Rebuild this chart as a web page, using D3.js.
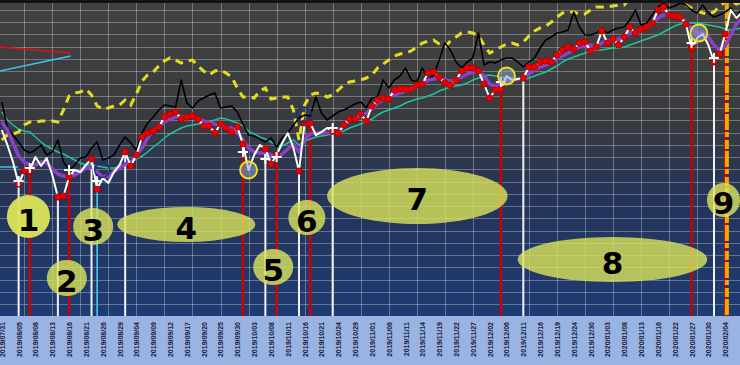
<!DOCTYPE html>
<html>
<head>
<meta charset="utf-8">
<script src="https://cdnjs.cloudflare.com/ajax/libs/d3/7.8.5/d3.min.js"></script>
<style>
body { margin: 0; background: #fff; }
svg { display: block; }
</style>
</head>
<body>
<div id="chart"></div>
<script>
// one label every 3 trading days, day 0 = 2019/07/31
var tickLabels = ['2019/07/31', '2019/08/05', '2019/08/08', '2019/08/13', '2019/08/16', '2019/08/21',
    '2019/08/26', '2019/08/29', '2019/09/04', '2019/09/09', '2019/09/12', '2019/09/17', '2019/09/20',
    '2019/09/25', '2019/09/30', '2019/10/03', '2019/10/08', '2019/10/11', '2019/10/16', '2019/10/21',
    '2019/10/24', '2019/10/29', '2019/11/01', '2019/11/06', '2019/11/11', '2019/11/14', '2019/11/19',
    '2019/11/22', '2019/11/27', '2019/12/02', '2019/12/06', '2019/12/11', '2019/12/16', '2019/12/19',
    '2019/12/24', '2019/12/30', '2020/01/03', '2020/01/08', '2020/01/13', '2020/01/16', '2020/01/22',
    '2020/01/27', '2020/01/30', '2020/02/04'];

// daily series, starting at day 0
var closeLine = [190, 175, 158, 136, 149, 150, 163, 154, 162, 145, 123, 124, 143, 150, 148, 155, 161, 131, 142, 137,
    148, 155, 168, 154, 165, 183, 187, 189, 193, 203, 206, 208, 201, 203, 204, 201, 194, 194, 187, 196,
    192, 188, 193, 176, 150, 165, 175, 171, 156, 165, 177, 187, 172, 149, 197, 197, 185, 188, 192, 189,
    187, 195, 201, 201, 206, 199, 214, 220, 222, 221, 230, 231, 231, 231, 235, 236, 247, 248, 243, 237,
    235, 240, 249, 252, 252, 249, 236, 222, 230, 231, 244, 240, 241, 242, 253, 253, 258, 259, 258, 265,
    270, 273, 271, 277, 278, 269, 273, 289, 277, 281, 275, 283, 293, 287, 291, 293, 297, 310, 313, 305,
    304, 303, 296, 272, 282, 286, 275, 258, 266, 286, 310, 302, 308];
var highLine = [218, 192, 185, 178, 170, 167, 170, 175, 165, 168, 180, 158, 150, 155, 162, 163, 172, 178, 160, 162,
    165, 175, 183, 177, 170, 187, 197, 203, 210, 215, 214, 213, 240, 217, 212, 219, 222, 225, 227, 212,
    213, 214, 208, 196, 185, 184, 181, 178, 182, 173, 182, 187, 195, 202, 205, 204, 223, 207, 200, 204,
    208, 210, 213, 216, 218, 212, 222, 223, 240, 232, 240, 244, 252, 240, 238, 252, 240, 245, 260, 277,
    270, 258, 252, 258, 262, 287, 255, 258, 257, 260, 262, 262, 258, 253, 258, 262, 272, 280, 283, 287,
    288, 290, 308, 293, 285, 285, 287, 290, 287, 290, 292, 293, 300, 310, 295, 297, 305, 313, 317, 312,
    314, 317, 315, 310, 307, 315, 307, 303, 305, 308, 312, 303, 312];
var shortAvg = [198, 190, 177, 164, 158, 155, 155, 158, 157, 151, 146, 144, 143, 145, 148, 152, 153, 148, 143, 144,
    148, 152, 156, 158, 164, 172, 182, 189, 194, 198, 201, 203, 203, 203, 203, 201, 199, 197, 196, 195,
    193, 192, 188, 180, 172, 168, 167, 167, 165, 163, 166, 171, 176, 168, 181, 186, 187, 187, 187, 187,
    189, 194, 199, 202, 204, 207, 211, 217, 220, 223, 225, 227, 229, 231, 234, 236, 240, 241, 242, 240,
    239, 240, 243, 246, 248, 248, 244, 236, 234, 237, 240, 240, 241, 242, 246, 250, 253, 255, 257, 261,
    264, 267, 270, 273, 274, 275, 273, 277, 279, 280, 281, 283, 287, 288, 290, 293, 296, 302, 305, 305,
    305, 303, 298, 291, 287, 287, 283, 275, 270, 274, 285, 296, 302];
var longAvg = [208, 200, 195, 191, 189, 188, 183, 178, 174, 171, 168, 166, 163, 160, 157, 155, 155, 154, 153, 152,
    152, 153, 156, 158, 161, 164, 168, 173, 177, 182, 186, 189, 192, 194, 195, 196, 197, 198, 200, 202,
    201, 199, 197, 194, 189, 186, 183, 181, 178, 175, 174, 177, 180, 175, 179, 181, 183, 184, 185, 186,
    187, 189, 192, 194, 196, 198, 201, 205, 208, 210, 212, 214, 217, 219, 221, 222, 224, 226, 229, 231,
    233, 234, 235, 237, 240, 242, 244, 245, 244, 243, 242, 242, 241, 240, 242, 244, 246, 248, 251, 254,
    258, 261, 263, 265, 267, 269, 270, 270, 271, 272, 272, 273, 275, 277, 279, 281, 283, 285, 288, 291,
    294, 296, 297, 297, 297, 296, 295, 294, 293, 291, 290, 291, 292];
var upperBand = [180, 185, 186, 188, 195, 198, 198, 199, 199, 199, 198, 210, 224, 227, 228, 231, 225, 214, 211, 212,
    214, 215, 220, 215, 226, 239, 245, 248, 254, 259, 262, 260, 257, 259, 260, 254, 249, 245, 249, 250,
    247, 243, 232, 223, 223, 222, 229, 232, 221, 222, 223, 223, 210, 180, 215, 225, 227, 226, 223, 225,
    230, 235, 238, 239, 240, 242, 245, 252, 256, 260, 264, 266, 267, 269, 273, 277, 279, 280, 276, 273,
    279, 283, 287, 288, 287, 284, 275, 267, 270, 273, 276, 277, 275, 278, 284, 289, 292, 294, 298, 303,
    307, 308, 308, 306, 306, 310, 313, 313, 313, 314, 315, 315, 322, 326, 328, 326, 324, 322, 323, 323,
    322, 317, 315, 312, 309, 307, 306, 308, 314, 318, 320, 316, 318];

// signal days (vertical lines down from the close)
var signalDays = [3, 5, 10, 12, 16, 17, 22, 43, 47, 49, 53, 55, 59, 89, 93, 123, 127, 129];
var signalKinds = ['buy', 'sell', 'buy', 'sell', 'buy', 'mark', 'buy', 'sell', 'buy', 'sell', 'buy', 'sell',
    'buy', 'sell', 'buy', 'sell', 'buy', 'sell'];
// runs of days where the close carries a red dot
var dotRuns = [[3, 5], [10, 12], [16, 17], [22, 43], [47, 49], [53, 55], [59, 89], [93, 123], [127, 129]];
var crossDays = [3, 5, 12, 17, 43, 47, 49, 59, 89, 123, 127];
var crossValues = [139, 152, 150, 139, 168, 161, 163, 192, 238, 277, 262];
var ringDays = [44, 90, 124.3];
var ringValues = [150, 244, 287];
var navyRingDays = [17.9, 53.9];
var navyRingValues = [150, 205];
var redTrend = [[-0.4, 273], [12.3, 267]];
var cyanTrend = [[-0.4, 249], [12.3, 264]];
var cyanLevel = [[-0.4, 153], [2.9, 153]];
var todayMark = 129.3;

// numbered notes: centre (day, value) and half-sizes (days, value units)
var noteLabels = ['1', '2', '3', '4', '5', '6', '7', '8', '9'];
var noteDays = [4.75, 11.6, 16.3, 32.9, 48.4, 54.4, 74.1, 108.9, 128.7];
var noteValues = [103.5, 42, 93.5, 95.5, 53, 102.5, 124, 60.5, 120];
var noteHalfDays = [3.84, 3.57, 3.57, 12.3, 3.57, 3.3, 16.1, 16.9, 2.95];
var noteHalfValues = [21.5, 18, 18.5, 17.5, 18, 17.5, 28, 22.5, 17];

var width = 740, height = 365;
var plotTop = 3, plotBottom = 316;

var x = d3.scaleLinear().domain([0, 129]).range([1.8, 725.2]);
var y = d3.scaleLinear().domain([0, 320]).range([320, 0]);

var svg = d3.select('#chart').append('svg')
    .attr('width', width)
    .attr('height', height);

var defs = svg.append('defs');
var grad = defs.append('linearGradient')
    .attr('id', 'bg')
    .attr('x1', 0).attr('y1', 0).attr('x2', 0).attr('y2', 1);
grad.append('stop').attr('offset', '0%').attr('stop-color', '#414141');
grad.append('stop').attr('offset', '35%').attr('stop-color', '#3a3b3e');
grad.append('stop').attr('offset', '62%').attr('stop-color', '#243459');
grad.append('stop').attr('offset', '100%').attr('stop-color', '#1e3b72');

defs.append('clipPath').attr('id', 'plot')
    .append('rect')
    .attr('x', 0).attr('y', plotTop)
    .attr('width', width).attr('height', plotBottom - plotTop);

// axis band and plot background
svg.append('rect')
    .attr('x', 0).attr('y', plotBottom)
    .attr('width', width).attr('height', height - plotBottom)
    .attr('fill', '#99b4e3');
svg.append('rect')
    .attr('x', 0).attr('y', plotTop)
    .attr('width', width).attr('height', plotBottom - plotTop)
    .attr('fill', 'url(#bg)');
svg.append('rect')
    .attr('x', 0).attr('y', 0)
    .attr('width', width).attr('height', plotTop)
    .attr('fill', '#141414');

var plot = svg.append('g').attr('clip-path', 'url(#plot)');

// grid
var grid = plot.append('g')
    .attr('stroke', 'rgba(255,255,255,0.3)')
    .attr('stroke-width', 1);
grid.selectAll('line.h')
    .data(d3.range(310, 4, -12.25))
    .enter().append('line')
    .attr('class', 'h')
    .attr('x1', 0).attr('x2', width)
    .attr('y1', function (d) { return Math.round(y(d)) + 0.5; })
    .attr('y2', function (d) { return Math.round(y(d)) + 0.5; });
grid.selectAll('line.v')
    .data(d3.range(4, 133, 5))
    .enter().append('line')
    .attr('class', 'v')
    .attr('y1', plotTop).attr('y2', plotBottom)
    .attr('x1', function (d) { return Math.round(x(d)) + 0.5; })
    .attr('x2', function (d) { return Math.round(x(d)) + 0.5; });

var line = d3.line()
    .x(function (d) { return x(d[0]); })
    .y(function (d) { return y(d[1]); });

function toPoints(values) {
    return values.map(function (v, i) { return [i, v]; });
}

// short trend lines at the top left
plot.append('path').attr('d', line(redTrend))
    .attr('fill', 'none').attr('stroke', '#e01010').attr('stroke-width', 1.5);
plot.append('path').attr('d', line(cyanTrend))
    .attr('fill', 'none').attr('stroke', '#3cc4ee').attr('stroke-width', 1.5);
plot.append('path').attr('d', line(cyanLevel))
    .attr('fill', 'none').attr('stroke', '#3cc4ee').attr('stroke-width', 1.5);

// signal lines, from the close down to the bottom
var signalColor = { buy: '#f2f2f2', sell: '#cc0000', mark: '#45c8f0' };
var signalWidth = { buy: 2, sell: 2.5, mark: 1.6 };
plot.append('g').selectAll('line')
    .data(signalDays)
    .enter().append('line')
    .attr('x1', function (d) { return x(d); })
    .attr('x2', function (d) { return x(d); })
    .attr('y1', function (d) { return y(closeLine[d]); })
    .attr('y2', plotBottom)
    .attr('stroke', function (d, i) { return signalColor[signalKinds[i]]; })
    .attr('stroke-width', function (d, i) { return signalWidth[signalKinds[i]]; });

plot.append('line')
    .attr('x1', x(todayMark)).attr('x2', x(todayMark))
    .attr('y1', plotTop).attr('y2', plotBottom)
    .attr('stroke', '#f2a900')
    .attr('stroke-width', 4)
    .attr('stroke-dasharray', '16,2,5,3,9,2');

// indicator lines
plot.append('path').attr('d', line(toPoints(longAvg)))
    .attr('fill', 'none').attr('stroke', '#1fc29c').attr('stroke-width', 1.5);
plot.append('path').attr('d', line(toPoints(upperBand)))
    .attr('fill', 'none').attr('stroke', '#e4dc1e').attr('stroke-width', 3)
    .attr('stroke-dasharray', '8,6');
plot.append('path').attr('d', line(toPoints(highLine)))
    .attr('fill', 'none').attr('stroke', '#000').attr('stroke-width', 1.6)
    .attr('stroke-linejoin', 'round');
plot.append('path').attr('d', line(toPoints(shortAvg)))
    .attr('fill', 'none').attr('stroke', '#8c40c8').attr('stroke-width', 3.5)
    .attr('stroke-linejoin', 'round');
plot.append('path').attr('d', line(toPoints(closeLine)))
    .attr('fill', 'none').attr('stroke', '#fff').attr('stroke-width', 2)
    .attr('stroke-linejoin', 'round');

// red dots on the close
var dotDays = [];
dotRuns.forEach(function (r) { dotDays = dotDays.concat(d3.range(r[0], r[1] + 1)); });
plot.append('g').selectAll('circle')
    .data(dotDays)
    .enter().append('circle')
    .attr('cx', function (d) { return x(d); })
    .attr('cy', function (d) { return y(closeLine[d]); })
    .attr('r', 3.2)
    .attr('fill', '#ee0000')
    .attr('stroke', '#8a0000')
    .attr('stroke-width', 0.6);

// white crosses
plot.append('g').selectAll('path')
    .data(crossDays)
    .enter().append('path')
    .attr('transform', function (d, i) { return 'translate(' + x(d) + ',' + y(crossValues[i]) + ')'; })
    .attr('d', 'M-5,0H5M0,-5V5')
    .attr('stroke', '#fff')
    .attr('stroke-width', 2);

// rings
plot.append('g').selectAll('circle')
    .data(navyRingDays)
    .enter().append('circle')
    .attr('cx', function (d) { return x(d); })
    .attr('cy', function (d, i) { return y(navyRingValues[i]); })
    .attr('r', 7.5)
    .attr('fill', 'none')
    .attr('stroke', '#1b2d84')
    .attr('stroke-width', 1.5);
plot.append('g').selectAll('circle')
    .data(ringDays)
    .enter().append('circle')
    .attr('cx', function (d) { return x(d); })
    .attr('cy', function (d, i) { return y(ringValues[i]); })
    .attr('r', 8.5)
    .attr('fill', 'rgba(140,160,205,0.55)')
    .attr('stroke', '#f0e41c')
    .attr('stroke-width', 1.8);

// numbered notes
var notes = svg.append('g').attr('clip-path', 'url(#plot)');
var note = notes.selectAll('g')
    .data(noteLabels)
    .enter().append('g')
    .attr('transform', function (d, i) { return 'translate(' + x(noteDays[i]) + ',' + y(noteValues[i]) + ')'; });
note.append('ellipse')
    .attr('rx', function (d, i) { return x(noteHalfDays[i]) - x(0); })
    .attr('ry', function (d, i) { return y(0) - y(noteHalfValues[i]); })
    .attr('fill', '#dce55a')
    .attr('fill-opacity', function (d) { return d === '1' ? 0.95 : 0.8; });
note.append('text')
    .attr('y', 3)
    .attr('dy', '0.36em')
    .attr('text-anchor', 'middle')
    .style('font-family', '"DejaVu Sans", Verdana, sans-serif')
    .style('font-weight', 'bold')
    .style('font-size', '31px')
    .attr('fill', '#000')
    .text(function (d) { return d; });

// date axis
var xAxis = d3.axisBottom(x)
    .tickValues(tickLabels.map(function (d, i) { return i * 3; }))
    .tickFormat(function (d, i) { return tickLabels[i]; })
    .tickSize(0);
var axisG = svg.append('g')
    .attr('transform', 'translate(0,' + plotBottom + ')')
    .call(xAxis);
axisG.select('.domain').remove();
axisG.selectAll('text')
    .attr('transform', 'rotate(-90)')
    .attr('text-anchor', 'end')
    .attr('x', -6)
    .attr('y', 0)
    .attr('dy', '0.35em')
    .attr('fill', '#1a1a3c')
    .style('font-family', '"Liberation Sans", Arial, sans-serif')
    .style('font-weight', 'bold')
    .style('font-size', '7px');
</script>
</body>
</html>
